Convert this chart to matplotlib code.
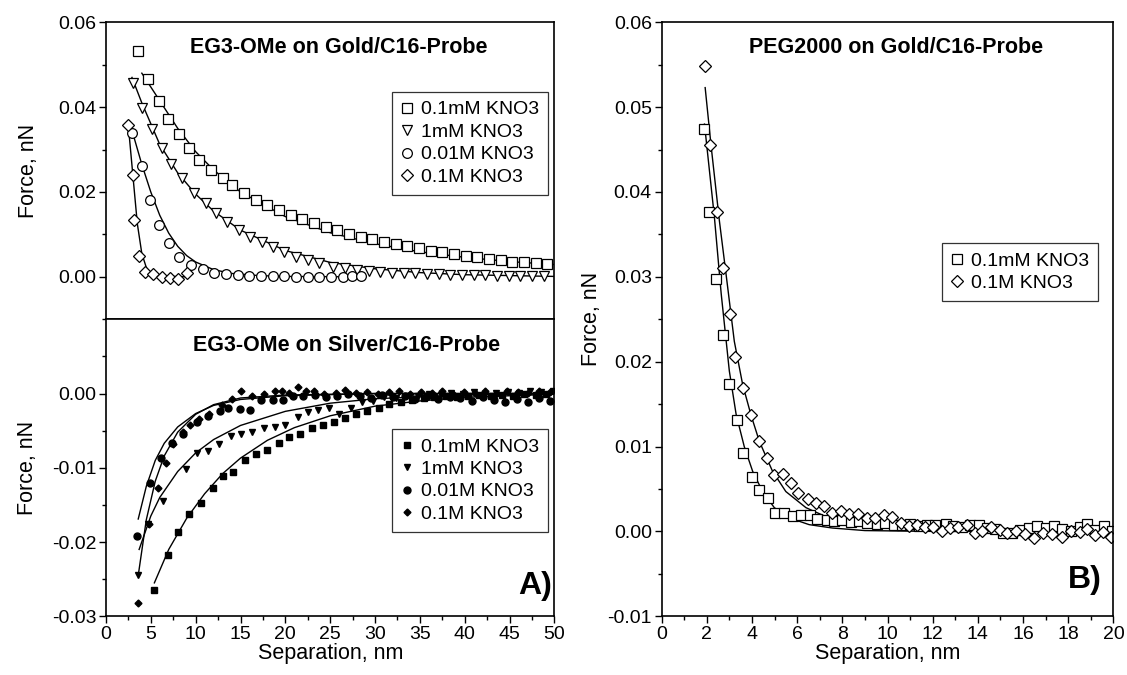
import matplotlib
matplotlib.use('Agg')
import matplotlib.pyplot as plt
from matplotlib.ticker import FormatStrFormatter

plt.rcParams['font.family'] = ['Liberation Sans', 'DejaVu Sans']

# ---- panel A, top: EG3-OMe on gold (open symbols) ----
gold_sq_x = [3.6, 4.7, 5.9, 6.9, 8.1, 9.3, 10.4, 11.7, 13.0, 14.1, 15.4, 16.7, 18.0, 19.3, 20.6, 21.9, 23.2,
             24.5, 25.8, 27.1, 28.4, 29.7, 31.0, 32.3, 33.6, 34.9, 36.2, 37.5, 38.8, 40.1, 41.4, 42.7, 44.0,
             45.3, 46.6, 47.9, 49.2]
gold_sq_y = [0.0533, 0.0466, 0.0415, 0.0371, 0.0336, 0.0304, 0.0276, 0.0253, 0.0233, 0.0217, 0.0197, 0.0182,
             0.0170, 0.0158, 0.0146, 0.0136, 0.0127, 0.0118, 0.0110, 0.0102, 0.0095, 0.0089, 0.0083, 0.0077,
             0.0072, 0.0067, 0.0062, 0.0058, 0.0054, 0.0050, 0.0046, 0.0042, 0.0039, 0.0036, 0.0034, 0.0032,
             0.0030]
gold_tri_x = [3.0, 4.0, 5.1, 6.2, 7.3, 8.5, 9.8, 11.1, 12.3, 13.5, 14.8, 16.1, 17.4, 18.6, 19.9, 21.2, 22.5,
              23.8, 25.3, 26.7, 28.0, 29.3, 30.6, 31.9, 33.2, 34.5, 35.8, 37.1, 38.4, 39.7, 41.0, 42.3, 43.6,
              44.9, 46.2, 47.5, 48.8]
gold_tri_y = [0.0458, 0.0399, 0.0348, 0.0304, 0.0265, 0.0233, 0.0197, 0.0174, 0.0150, 0.0130, 0.0111, 0.0095,
              0.0083, 0.0071, 0.0059, 0.0047, 0.0040, 0.0032, 0.0024, 0.0020, 0.0016, 0.0014, 0.0012, 0.0010,
              0.0009, 0.0008, 0.0007, 0.0006, 0.0005, 0.0005, 0.0004, 0.0004, 0.0003, 0.0003, 0.0002, 0.0002,
              0.0002]
gold_cir_x = [2.9, 4.0, 4.9, 5.9, 7.0, 8.2, 9.5, 10.8, 12.1, 13.4, 14.7, 16.0, 17.3, 18.6, 19.9, 21.2, 22.5,
              23.8, 25.1, 26.4, 27.4, 28.4]
gold_cir_y = [0.0340, 0.0261, 0.0182, 0.0123, 0.0079, 0.0047, 0.0029, 0.0018, 0.0009, 0.0006, 0.0004, 0.0003,
              0.0002, 0.0001, 0.0001, 0.0000, 0.0000, 0.0000, 0.0000, 0.0000, 0.0001, 0.0002]
gold_dia_x = [2.5, 3.0, 3.1, 3.7, 4.4, 5.3, 6.2, 7.1, 8.0, 9.0]
gold_dia_y = [0.0359, 0.0241, 0.0134, 0.0050, 0.0012, 0.0006, 0.0000, -0.0002, -0.0006, 0.0009]

gold_fit_sq_x = [4.0, 6, 8, 10, 12, 15, 20, 25, 30, 35, 40, 45, 50]
gold_fit_sq_y = [0.0480, 0.0415, 0.0350, 0.0295, 0.0252, 0.0200, 0.0142, 0.0104, 0.0078, 0.0059, 0.0046, 0.0036, 0.0029]
gold_fit_tri_x = [2.9, 4, 6, 8, 10, 12, 15, 20, 25, 30, 35, 40, 50]
gold_fit_tri_y = [0.0470, 0.0410, 0.0312, 0.0245, 0.0195, 0.0155, 0.0110, 0.0062, 0.0034, 0.0019, 0.0010, 0.0005, 0.0001]
gold_fit_cir_x = [2.7, 4, 5, 6, 7, 8, 9, 10, 12, 14, 17, 20, 28]
gold_fit_cir_y = [0.0360, 0.0265, 0.0200, 0.0145, 0.0103, 0.0072, 0.0050, 0.0035, 0.0017, 0.0008, 0.0003, 0.0001, 0.0]
gold_fit_dia_x = [2.5, 3.0, 3.5, 4.0, 4.5, 5.0, 6.0, 9.0]
gold_fit_dia_y = [0.0355, 0.0240, 0.0125, 0.0055, 0.0022, 0.0008, 0.0002, 0.0]

# ---- panel A, bottom: EG3-OMe on silver (filled symbols) ----
silv_sq_x = [5.4, 6.9, 8.0, 9.3, 10.6, 11.9, 13.1, 14.2, 15.5, 16.7, 18.0, 19.3, 20.4, 21.6, 23.0, 24.2, 25.4,
             26.7, 27.9, 29.1, 30.4, 31.6, 32.9, 34.1, 35.4, 36.6, 37.9, 39.1, 40.4, 41.6, 42.9, 44.1, 45.4,
             46.6, 47.9, 49.1]
silv_sq_y = [-0.0264, -0.0218, -0.0186, -0.0162, -0.0147, -0.0127, -0.0111, -0.0106, -0.0090, -0.0082, -0.0076,
             -0.0066, -0.0059, -0.0055, -0.0047, -0.0043, -0.0039, -0.0033, -0.0028, -0.0023, -0.0019, -0.0014,
             -0.0011, -0.0009, -0.0006, -0.0005, -0.0004, -0.0005, -0.0003, -0.0002, -0.0004, -0.0002, -0.0003,
             -0.0001, -0.0002, 0.0000]
silv_tri_x = [3.6, 4.7, 6.4, 8.9, 10.1, 11.4, 12.6, 13.9, 15.1, 16.3, 17.6, 18.8, 20.0, 21.4, 22.5, 23.6, 24.9,
              26.0, 27.3, 28.5, 29.8, 31.0, 32.3, 33.5, 34.8, 36.0, 37.3, 38.5, 39.8, 41.0, 42.3, 43.5, 44.8,
              46.0, 47.3, 48.5, 49.8]
silv_tri_y = [-0.0244, -0.0176, -0.0145, -0.0102, -0.0080, -0.0077, -0.0068, -0.0057, -0.0055, -0.0052, -0.0046,
              -0.0045, -0.0043, -0.0031, -0.0025, -0.0022, -0.0019, -0.0027, -0.0019, -0.0012, -0.0010, -0.0005,
              -0.0006, -0.0003, -0.0004, 0.0000, -0.0002, 0.0001, -0.0001, 0.0002, 0.0000, 0.0001, 0.0002,
              0.0001, 0.0003, 0.0002, 0.0004]
silv_cir_x = [3.5, 4.9, 6.1, 7.4, 8.6, 10.1, 11.4, 12.7, 13.6, 14.9, 16.1, 17.3, 18.6, 19.7, 20.8, 22.0, 23.3,
              24.5, 25.8, 27.0, 28.3, 29.5, 30.8, 32.0, 33.3, 34.5, 35.8, 37.0, 38.3, 39.5, 40.8, 42.0, 43.3,
              44.5, 45.8, 47.0, 48.3, 49.5]
silv_cir_y = [-0.0192, -0.0121, -0.0087, -0.0067, -0.0054, -0.0039, -0.0030, -0.0023, -0.0019, -0.0021, -0.0022,
              -0.0009, -0.0009, -0.0009, -0.0003, -0.0004, -0.0002, -0.0005, -0.0003, -0.0001, -0.0004, -0.0006,
              -0.0002, -0.0005, -0.0003, -0.0007, -0.0004, -0.0008, -0.0005, -0.0006, -0.0010, -0.0005, -0.0009,
              -0.0012, -0.0007, -0.0011, -0.0006, -0.0010]
silv_dia_x = [3.6, 4.8, 5.8, 6.7, 7.5, 8.6, 9.4, 10.4, 11.5, 12.9, 14.1, 15.1, 16.3, 17.6, 18.8, 19.6, 20.4,
              21.4, 22.3, 23.2, 24.3, 25.6, 26.7, 27.9, 29.1, 30.3, 31.5, 32.7, 33.9, 35.1, 36.3, 37.5, 38.7,
              39.9, 41.1, 42.3, 43.5, 44.7, 45.9, 47.1, 48.3, 49.5]
silv_dia_y = [-0.0282, -0.0176, -0.0127, -0.0093, -0.0068, -0.0052, -0.0043, -0.0034, -0.0028, -0.0016, -0.0008,
              0.0004, -0.0003, 0.0000, 0.0003, 0.0004, 0.0001, 0.0009, 0.0004, 0.0004, 0.0000, 0.0001, 0.0005,
              0.0001, 0.0002, -0.0001, 0.0002, 0.0003, 0.0000, 0.0002, 0.0001, 0.0003, 0.0000, 0.0002, 0.0001,
              0.0004, 0.0000, 0.0003, 0.0002, 0.0001, 0.0004, 0.0002]

silv_fit_sq_x = [5.4, 7, 9, 11, 13, 15, 18, 21, 25, 30, 35, 40, 50]
silv_fit_sq_y = [-0.0255, -0.0210, -0.0168, -0.0135, -0.0108, -0.0087, -0.0063, -0.0046, -0.0030, -0.0017,
                 -0.0010, -0.0005, -0.0001]
silv_fit_tri_x = [3.7, 5, 6, 8, 10, 12, 15, 20, 25, 30, 40, 50]
silv_fit_tri_y = [-0.0210, -0.0165, -0.0140, -0.0105, -0.0080, -0.0062, -0.0043, -0.0024, -0.0013, -0.0007,
                  -0.0002, 0.0]
silv_fit_cir_x = [3.6, 4.5, 5.5, 6.5, 8, 10, 12, 15, 20, 30, 50]
silv_fit_cir_y = [-0.0169, -0.0125, -0.0090, -0.0067, -0.0045, -0.0027, -0.0016, -0.0008, -0.0003, 0.0, 0.0]
silv_fit_dia_x = [3.6, 4.5, 5.5, 6.5, 8, 10, 12, 15, 20, 30, 50]
silv_fit_dia_y = [-0.0245, -0.0170, -0.0118, -0.0084, -0.0052, -0.0028, -0.0015, -0.0006, -0.0002, 0.0, 0.0]

# ---- panel B: PEG2000 on gold ----
peg_sq_x = [1.9, 2.12, 2.41, 2.71, 3.0, 3.33, 3.62, 3.99, 4.3, 4.7, 5.03, 5.43, 5.8, 6.17, 6.56, 6.9, 7.3, 7.65,
            8.0, 8.37, 8.74, 9.1, 9.55, 9.9, 10.3, 10.65, 11.0, 11.4, 11.76, 12.1, 12.57, 12.9, 13.3, 13.65,
            14.04, 14.4, 14.75, 15.1, 15.5, 15.85, 16.25, 16.6, 17.0, 17.35, 17.7, 18.1, 18.5, 18.85, 19.2,
            19.6, 19.95]
peg_sq_y = [0.0474, 0.0377, 0.0297, 0.0232, 0.0174, 0.0131, 0.0093, 0.0064, 0.0049, 0.0039, 0.0022, 0.0022,
            0.0018, 0.0019, 0.0019, 0.0015, 0.0014, 0.0012, 0.0013, 0.0011, 0.0012, 0.0010, 0.0009, 0.0010,
            0.0008, 0.0007, 0.0009, 0.0006, 0.0008, 0.0008, 0.0009, 0.0006, 0.0005, 0.0007, 0.0008, 0.0004,
            0.0003, -0.0002, -0.0002, 0.0002, 0.0004, 0.0006, 0.0004, 0.0006, 0.0003, 0.0001, 0.0005, 0.0009,
            0.0002, 0.0006, 0.0001]
peg_dia_x = [1.93, 2.16, 2.44, 2.71, 3.03, 3.27, 3.62, 3.96, 4.33, 4.67, 4.96, 5.36, 5.73, 6.06, 6.46, 6.83, 7.2,
             7.56, 7.93, 8.3, 8.7, 9.1, 9.45, 9.85, 10.2, 10.58, 10.95, 11.3, 11.66, 12.0, 12.4, 12.77, 13.1,
             13.5, 13.85, 14.2, 14.6, 14.96, 15.3, 15.7, 16.1, 16.5, 16.9, 17.3, 17.7, 18.1, 18.5, 18.85, 19.2,
             19.55, 19.9]
peg_dia_y = [0.0549, 0.0455, 0.0377, 0.0311, 0.0256, 0.0206, 0.0169, 0.0137, 0.0107, 0.0087, 0.0067, 0.0068,
             0.0057, 0.0045, 0.0038, 0.0033, 0.0030, 0.0022, 0.0024, 0.0020, 0.0020, 0.0016, 0.0016, 0.0019,
             0.0017, 0.0010, 0.0006, 0.0008, 0.0005, 0.0005, 0.0000, 0.0004, 0.0005, 0.0007, -0.0002, 0.0000,
             0.0005, 0.0002, -0.0002, 0.0000, -0.0003, -0.0008, -0.0002, -0.0003, -0.0006, 0.0000, -0.0001,
             0.0003, -0.0004, -0.0001, -0.0006]

peg_fit_sq_x = [1.9, 2.34, 2.64, 3.0, 3.3, 3.66, 4.03, 4.47, 4.99, 5.65, 6.53, 7.56, 9.0, 12.0, 20.0]
peg_fit_sq_y = [0.0480, 0.0370, 0.0280, 0.0189, 0.0138, 0.0100, 0.0071, 0.0047, 0.0028, 0.0016, 0.0008, 0.0004,
                0.0001, 0.0, 0.0]
peg_fit_dia_x = [1.93, 2.19, 2.56, 2.93, 3.22, 3.59, 3.96, 4.33, 4.91, 5.5, 6.39, 7.56, 9.0, 11.2, 20.0]
peg_fit_dia_y = [0.0523, 0.0455, 0.0366, 0.0287, 0.0224, 0.0173, 0.0137, 0.0106, 0.0071, 0.0047, 0.0028, 0.0014,
                 0.0006, 0.0002, 0.0]

conc_4 = ['0.1mM KNO3', '1mM KNO3', '0.01M KNO3', '0.1M KNO3']
conc_2 = ['0.1mM KNO3', '0.1M KNO3']

fig = plt.figure(figsize=(11.27, 6.75), dpi=100)
ax_top = fig.add_axes([0.094, 0.527, 0.398, 0.440])
ax_bot = fig.add_axes([0.094, 0.087, 0.398, 0.440])
ax_r = fig.add_axes([0.587, 0.087, 0.401, 0.880])

tick_fs = 14
lab_fs = 15.5
leg_fs = 14
title_fs = 15.5
for ax in (ax_top, ax_bot, ax_r):
    ax.tick_params(direction='out', length=5, width=1, labelsize=tick_fs, top=False, right=False, pad=2)
    ax.tick_params(which='minor', direction='out', length=3, width=1)
    for s in ax.spines.values():
        s.set_linewidth(1.2)

mk = dict(linestyle='none', markerfacecolor='white', markeredgecolor='black', markeredgewidth=0.9, markersize=7)
ln = dict(color='black', linewidth=1.0)
leg_kw = dict(fontsize=leg_fs, frameon=True, fancybox=False, edgecolor='black', handlelength=0.7,
              handletextpad=0.35, borderpad=0.45, labelspacing=0.25, borderaxespad=0)

# top: gold
ax_top.plot(gold_fit_sq_x, gold_fit_sq_y, **ln)
ax_top.plot(gold_fit_tri_x, gold_fit_tri_y, **ln)
ax_top.plot(gold_fit_cir_x, gold_fit_cir_y, **ln)
ax_top.plot(gold_fit_dia_x, gold_fit_dia_y, **ln)
h1, = ax_top.plot(gold_sq_x, gold_sq_y, marker='s', **mk)
h2, = ax_top.plot(gold_tri_x, gold_tri_y, marker='v', **mk)
h3, = ax_top.plot(gold_cir_x, gold_cir_y, marker='o', **mk)
h4, = ax_top.plot(gold_dia_x, gold_dia_y, marker='D', **{**mk, 'markersize': 6})
ax_top.set_xlim(0, 50)
ax_top.set_ylim(-0.01, 0.06)
ax_top.set_yticks([0.0, 0.02, 0.04, 0.06])
ax_top.set_yticks([-0.01, 0.01, 0.03, 0.05], minor=True)
ax_top.yaxis.set_major_formatter(FormatStrFormatter('%.2f'))
ax_top.tick_params(axis='x', which='both', bottom=False, labelbottom=False)
ax_top.set_ylabel('Force, nN', fontsize=lab_fs, labelpad=14)
ax_top.text(0.52, 0.915, 'EG3-OMe on Gold/C16-Probe', transform=ax_top.transAxes,
            ha='center', va='center', fontsize=title_fs, fontweight='bold')
leg = ax_top.legend([h1, h2, h3, h4], conc_4, loc='upper right', bbox_to_anchor=(0.985, 0.765), **leg_kw)
leg.get_frame().set_linewidth(0.9)

# bottom: silver
mf = dict(linestyle='none', color='black')
ax_bot.plot(silv_fit_sq_x, silv_fit_sq_y, **ln)
ax_bot.plot(silv_fit_tri_x, silv_fit_tri_y, **ln)
ax_bot.plot(silv_fit_cir_x, silv_fit_cir_y, **ln)
ax_bot.plot(silv_fit_dia_x, silv_fit_dia_y, **ln)
g1, = ax_bot.plot(silv_sq_x, silv_sq_y, marker='s', markersize=4.5, **mf)
g2, = ax_bot.plot(silv_tri_x, silv_tri_y, marker='v', markersize=5, **mf)
g3, = ax_bot.plot(silv_cir_x, silv_cir_y, marker='o', markersize=5, **mf)
g4, = ax_bot.plot(silv_dia_x, silv_dia_y, marker='D', markersize=3.5, **mf)
ax_bot.set_xlim(0, 50)
ax_bot.set_ylim(-0.03, 0.01)
ax_bot.set_xticks(range(0, 51, 5))
ax_bot.set_xticks([2.5 + 5 * i for i in range(10)], minor=True)
ax_bot.set_yticks([-0.03, -0.02, -0.01, 0.0])
ax_bot.set_yticks([-0.025, -0.015, -0.005, 0.005], minor=True)
ax_bot.yaxis.set_major_formatter(FormatStrFormatter('%.2f'))
ax_bot.set_ylabel('Force, nN', fontsize=lab_fs, labelpad=10)
ax_bot.set_xlabel('Separation, nm', fontsize=lab_fs, labelpad=0)
ax_bot.text(0.537, 0.912, 'EG3-OMe on Silver/C16-Probe', transform=ax_bot.transAxes,
            ha='center', va='center', fontsize=title_fs, fontweight='bold')
leg2 = ax_bot.legend([g1, g2, g3, g4], conc_4, loc='upper right', bbox_to_anchor=(0.985, 0.63), **leg_kw)
leg2.get_frame().set_linewidth(0.9)
ax_bot.text(0.995, 0.05, 'A)', transform=ax_bot.transAxes, ha='right', va='bottom',
            fontsize=23, fontweight='bold')

# right: PEG2000
ax_r.plot(peg_fit_sq_x, peg_fit_sq_y, **ln)
ax_r.plot(peg_fit_dia_x, peg_fit_dia_y, **ln)
p1, = ax_r.plot(peg_sq_x, peg_sq_y, marker='s', **mk)
p2, = ax_r.plot(peg_dia_x, peg_dia_y, marker='D', **{**mk, 'markersize': 6})
ax_r.set_xlim(0, 20)
ax_r.set_ylim(-0.01, 0.06)
ax_r.set_xticks(range(0, 21, 2))
ax_r.set_xticks(range(1, 20, 2), minor=True)
ax_r.set_yticks([-0.01, 0.0, 0.01, 0.02, 0.03, 0.04, 0.05, 0.06])
ax_r.set_yticks([-0.005, 0.005, 0.015, 0.025, 0.035, 0.045, 0.055], minor=True)
ax_r.yaxis.set_major_formatter(FormatStrFormatter('%.2f'))
ax_r.set_ylabel('Force, nN', fontsize=lab_fs)
ax_r.set_xlabel('Separation, nm', fontsize=lab_fs, labelpad=0)
ax_r.text(0.52, 0.958, 'PEG2000 on Gold/C16-Probe', transform=ax_r.transAxes,
          ha='center', va='center', fontsize=title_fs, fontweight='bold')
leg3 = ax_r.legend([p1, p2], conc_2, loc='upper right', bbox_to_anchor=(0.965, 0.628), **leg_kw)
leg3.get_frame().set_linewidth(0.9)
ax_r.text(0.975, 0.035, 'B)', transform=ax_r.transAxes, ha='right', va='bottom',
          fontsize=23, fontweight='bold')

fig.savefig('out.png', dpi=100)
